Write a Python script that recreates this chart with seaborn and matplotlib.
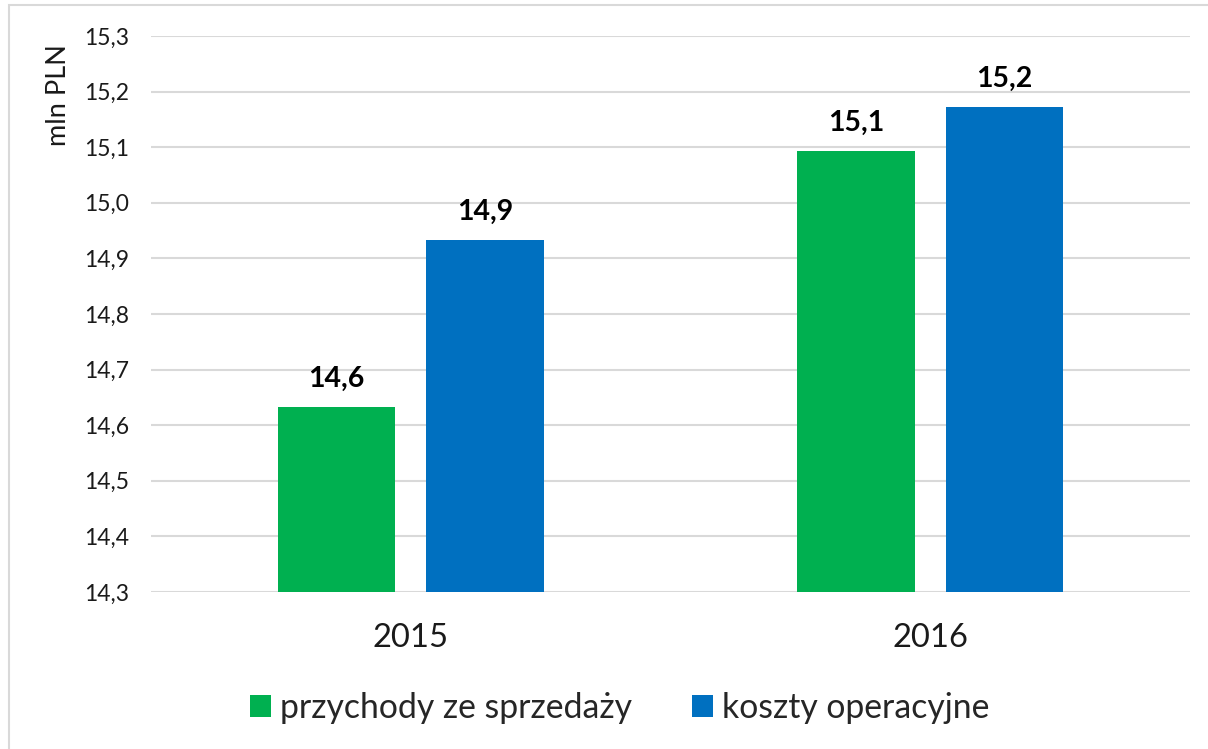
import matplotlib
matplotlib.use("Agg")
import matplotlib.pyplot as plt
from matplotlib.patches import Patch, Rectangle
import seaborn as sns
import pandas as pd

years = ["2015", "2016"]
series_names = ["przychody ze sprzedaży", "koszty operacyjne"]
przychody = [14.633, 15.093]
koszty = [14.933, 15.172]
colors = ["#00B050", "#0070C0"]
yticks = [14.3, 14.4, 14.5, 14.6, 14.7, 14.8, 14.9, 15.0, 15.1, 15.2, 15.3]
ylabel = "mln PLN"

df = pd.DataFrame({
    "rok": years * 2,
    "seria": [series_names[0]] * 2 + [series_names[1]] * 2,
    "wartosc": przychody + koszty,
})

sns.set_theme(style="white")
plt.rcParams["font.family"] = ["Lato", "DejaVu Sans"]

fig = plt.figure(figsize=(12.08, 7.49), dpi=100)
ax = fig.add_axes([151 / 1208, 1 - 592 / 749, 1039 / 1208, 556 / 749])

sns.barplot(data=df, x="rok", y="wartosc", hue="seria", hue_order=series_names,
            palette=colors, width=0.5717, gap=0.212, ax=ax, legend=False,
            saturation=1, edgecolor="none", zorder=3)

ax.set_ylim(14.3, 15.3)
ax.set_xlim(-0.5, 1.5)
ax.set_yticks(yticks)
ax.set_yticklabels([f"{v:.1f}".replace(".", ",") for v in yticks])
ax.yaxis.grid(True, color="#D9D9D9", linewidth=1.5, zorder=0)
ax.set_axisbelow(True)
for s in ax.spines.values():
    s.set_visible(False)
ax.tick_params(axis="y", length=0, pad=16, labelsize=16.5, labelcolor="#1a1a1a")
ax.tick_params(axis="x", length=0, pad=22, labelsize=23.6, labelcolor="#1a1a1a")
ax.set_xlabel("")
ax.set_ylabel("")

for cont in ax.containers:
    labels = [f"{b.get_height():.1f}".replace(".", ",") for b in cont]
    ax.bar_label(cont, labels=labels, padding=11, fontsize=20.5, fontweight="bold", color="#000000")

fig.text(59 / 1208, 1 - 95 / 749, ylabel, rotation=90, ha="center", va="center",
         fontsize=19.5, color="#1a1a1a")

handles = [Patch(facecolor=c, edgecolor="none") for c in colors]
fig.legend(handles, series_names, loc="center", bbox_to_anchor=(0.513, 1 - 708 / 749),
           ncol=2, frameon=False, fontsize=24.3, handlelength=0.62, handleheight=0.62,
           handletextpad=0.27, columnspacing=1.8)

fig.patches.append(Rectangle((9 / 1208, -0.01), 1.0, 1 - 5 / 749 + 0.01, transform=fig.transFigure,
                             fill=False, edgecolor="#D9D9D9", linewidth=1.5))

fig.savefig("out.png", dpi=100)
